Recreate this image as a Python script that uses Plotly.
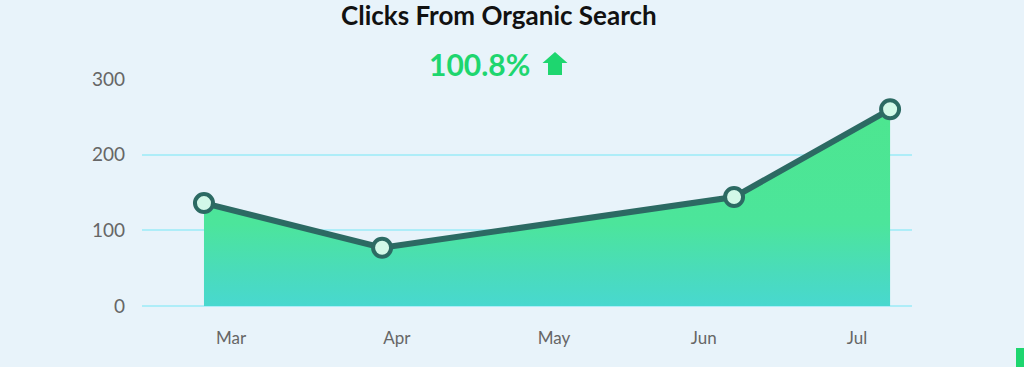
import plotly.graph_objects as go

# ---- data ----
month_labels = ["Mar", "Apr", "May", "Jun", "Jul"]
month_pos = [0.0, 1.06, 2.064, 3.02, 4.0]          # label positions (month units)
point_x = [-0.173, 0.965, 3.214, 4.211]            # data point positions
clicks = [136, 77, 144, 260]
y_ticks = [0, 100, 200, 300]
title_text = "Clicks From Organic Search"
change_text = "100.8%"

BG = "#e8f3fa"
GRID = "#aeedf8"
LINE = "#2c6a63"
GREEN = "#1ed66f"

fig = go.Figure()
fig.add_trace(go.Scatter(
    x=point_x, y=clicks, mode="lines+markers",
    fill="tozeroy",
    fillgradient=dict(type="vertical",
                      colorscale=[[0, "#48d8cf"], [0.18, "#4adcba"],
                                  [0.42, "#4ce59b"], [1, "#4de68f"]]),
    line=dict(color=LINE, width=6),
    marker=dict(size=18, color="#d2f8e8", line=dict(color=LINE, width=4)),
    hoverinfo="skip", showlegend=False,
))

L, R, T, B = 142, 112, 79, 61
W, H = 1024, 367
pw, ph = W - L - R, H - T - B

def px(x):
    return (x - L) / pw

def py(y):
    return (H - B - y) / ph

# up arrow next to percentage
arrow = (f"M {px(555)} {py(52)} L {px(567.5)} {py(63)} L {px(562)} {py(63)} "
         f"L {px(562)} {py(75)} L {px(548)} {py(75)} L {px(548)} {py(63)} "
         f"L {px(542.5)} {py(63)} Z")
fig.add_shape(type="path", path=arrow, xref="paper", yref="paper",
              fillcolor=GREEN, line=dict(width=0))
# green corner widget bottom right
fig.add_shape(type="rect", xref="paper", yref="paper",
              x0=px(1016), x1=px(1030), y0=py(348), y1=py(372),
              fillcolor=GREEN, line=dict(width=0))

fig.add_annotation(text=title_text, xref="paper", yref="paper",
                   x=px(499), y=py(15), xanchor="center", yanchor="middle",
                   showarrow=False,
                   font=dict(family="Lato", size=26, weight=700, color="#111111"))
fig.add_annotation(text=change_text, xref="paper", yref="paper",
                   x=px(479), y=py(64), xanchor="center", yanchor="middle",
                   showarrow=False,
                   font=dict(family="Lato", size=30, weight=700, color=GREEN))

fig.update_layout(
    width=W, height=H,
    margin=dict(l=L, r=R, t=T, b=B),
    paper_bgcolor=BG, plot_bgcolor=BG,
    xaxis=dict(range=[-0.569, 4.351], tickvals=month_pos, ticktext=month_labels,
               showgrid=False, zeroline=False, showline=False, ticks="",
               tickfont=dict(family="Lato", size=17, color="#666666"),
               ticklabelstandoff=20, fixedrange=True),
    yaxis=dict(range=[0, 300], tickvals=y_ticks, showgrid=True, gridcolor=GRID,
               gridwidth=1.5, zeroline=True, zerolinecolor=GRID, zerolinewidth=1.5,
               showline=False, ticks="",
               tickfont=dict(family="Lato", size=19, color="#666666"),
               ticklabelstandoff=16, fixedrange=True),
)
fig.write_html("out.html", config={"displayModeBar": False})
